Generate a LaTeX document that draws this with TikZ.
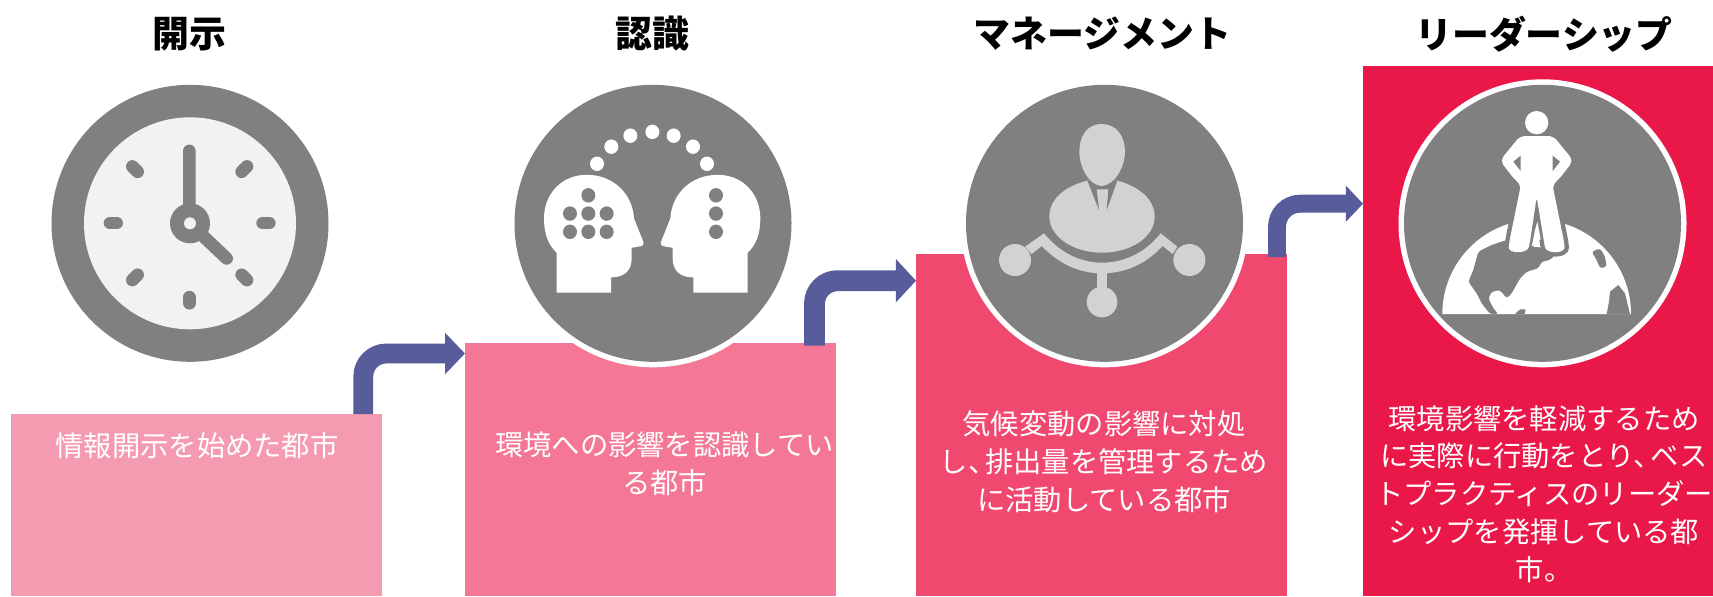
\documentclass[tikz,border=0pt]{standalone}
\usepackage{fontspec}
\usetikzlibrary{arrows.meta}
\newfontfamily\jpfont{Noto Sans CJK JP}
\definecolor{boxone}{HTML}{F59BB1}
\definecolor{boxtwo}{HTML}{F47896}
\definecolor{boxthree}{HTML}{F14870}
\definecolor{boxfour}{HTML}{EA1749}
\definecolor{arrowblue}{HTML}{575C9B}
\definecolor{iconlight}{HTML}{D2D2D2}
\tikzset{
	stepbox/.style={anchor=north west,inner sep=0pt,outer sep=0pt},
	stepline/.style={draw=arrowblue,rounded corners=.46cm},
	titletext/.style={font=\fontsize{21}{24}\selectfont\jpfont\bfseries},
	bodytext/.style={text=white,align=center,font=\fontsize{16.1}{21.5}\selectfont\jpfont},
}
\newcommand{\headshape}{(320,770)--(483,770)--(483,730) .. controls (525,730) and (545,710) .. (545,680)--(545,652)--(572,648) .. controls (582,646) and (582,640) .. (578,632)--(552,575) .. controls (548,510) and (490,460) .. (410,460) .. controls (335,460) and (282,510) .. (282,575) .. controls (282,615) and (295,645) .. (320,665)--cycle}
\newcommand{\standshape}{(300,138)--(400,138)--(460,212)--(415,270)--(397,283)--(432,455) .. controls (436,492) and (378,492) .. (372,455)--(350,320)--(330,455) .. controls (322,492) and (264,492) .. (268,455)--(303,283)--(285,270)--(240,212)--cycle}
\begin{document}
\begin{tikzpicture}[x=.02cm,y=-.02cm]
\useasboundingbox (0,0) rectangle (1713,596);
\node[stepbox,fill=boxone,minimum width=7.42cm,minimum height=3.64cm] (box1) at (11,414) {};
\node[stepbox,fill=boxtwo,minimum width=7.42cm,minimum height=5.06cm] (box2) at (465,343) {};
\node[stepbox,fill=boxthree,minimum width=7.42cm,minimum height=6.84cm] (box3) at (916,254) {};
\node[stepbox,fill=boxfour,minimum width=7cm,minimum height=10.6cm] (box4) at (1363,66) {};

\coordinate (start1) at (363.3,414);
\coordinate (tip1) at (465,353.5);
\coordinate (start2) at (814.5,345.5);
\coordinate (tip2) at (916,280.7);
\coordinate (start3) at (1277,257);
\coordinate (tip3) at (1363,203.7);
\draw[stepline,line width=11.3pt,-{Triangle[width=22.8pt,length=11.3pt]}] (start1) |- (tip1);
\draw[stepline,line width=11.9pt,-{Triangle[width=24.1pt,length=11.5pt]}] (start2) |- (tip2);
\draw[stepline,line width=10.2pt,-{Triangle[width=20.1pt,length=9.8pt]}] (start3) |- (tip3);

\fill[white] (653,223.3) circle (144);
\fill[white] (1104.5,223.3) circle (144);
\fill[white] (1542.5,223.3) circle (144);
\foreach \cx in {190,653,1104.5,1542.5}
	\fill[gray] (\cx,223.3) circle (138.5);

\fill[black!5] (190,223.3) circle (106);
\begin{scope}[xscale=1/3,yscale=.38]
	\draw[gray,line width=7.2pt,line cap=round] (568,397)--(568,587)--(680,680);
	\draw[gray,line width=7.2pt,line cap=round] (330,587)--(350,587) (788,587)--(808,587) (568,782)--(568,798);
	\draw[gray,line width=7.2pt,line cap=round] (397,438)--(413,452) (741,438)--(725,452) (397,737)--(413,723) (741,737)--(725,723);
\end{scope}
\fill[gray] (190,223.3) circle (20);
\fill[black!5] (190,223.3) circle (6);

\begin{scope}[shift={(450,0)},xscale=1/3,yscale=.38]
	\fill[white] \headshape;
	\begin{scope}[shift={(1213,0)},xscale=-1]
		\fill[white] \headshape;
	\end{scope}
	\foreach \dx/\dy in {441/431,484/386,541/357,607/347,671/357,729/386,771/431}
		\fill[white] (\dx,\dy) ellipse [x radius=21,y radius=19];
	\foreach \dx/\dy in {415/514,360/562,415/562,470/562,360/610,415/610,470/610,798/514,798/562,798/610}
		\fill[gray] (\dx,\dy) ellipse [x radius=21,y radius=19];
\end{scope}

\begin{scope}[shift={(990,100)},scale=1/3,iconlight]
	\fill (75,480) circle (48);
	\fill (598,480) circle (48);
	\fill (336,606) circle (46);
	\fill (320,510) rectangle (352,600);
	\fill (162,400) .. controls (215,465) and (280,488) .. (335,488) .. controls (395,488) and (460,465) .. (512,400)--(562,440)--(548,462)--(518,438) .. controls (460,500) and (395,520) .. (335,520) .. controls (280,520) and (215,500) .. (155,438)--(125,462)--(105,440)--cycle;
	\fill (292,242) .. controls (220,260) and (178,300) .. (178,350) .. controls (178,410) and (250,458) .. (335,458) .. controls (425,458) and (494,410) .. (494,350) .. controls (494,300) and (450,260) .. (382,242)--cycle;
	\fill[gray] (292,242)--(327,330)--(320,268)--(355,268)--(350,330)--(382,242)--cycle;
	\fill (335,72) .. controls (380,72) and (405,110) .. (405,155) .. controls (405,200) and (375,255) .. (335,258) .. controls (295,255) and (268,200) .. (268,155) .. controls (268,110) and (290,72) .. (335,72);
\end{scope}

\begin{scope}[shift={(1435,230)},scale=1/3]
	\fill[white] (22,252) arc [start angle=180,end angle=360,radius=283]--cycle;
	\fill[gray,rounded corners=1.5pt] (130,65)--(170,45)--(215,30)--(235,50)--(265,60)--(300,50)--(330,55)--(360,75)--(345,90)--(320,95)--(310,115)--(275,125)--(255,145)--(230,190)--(215,205)--(195,180)--(170,185)--(160,205)--(175,235)--(190,252)--(165,252)--(140,220)--(125,190)--(100,155)--(115,120)--cycle;
	\fill[gray] (240,252)--(255,238)--(272,238)--(268,252)--cycle;
	\fill[gray,rounded corners=1.5pt] (470,65)--(495,55)--(510,80)--(515,110)--(495,115)--(485,90)--cycle;
	\fill[gray] (525,185)--(550,165)--(570,190)--(585,252)--(515,252)--(522,215)--cycle;
\end{scope}
\begin{scope}[shift={(1420,90)},scale=1/3]
	\draw[gray,line width=5pt,rounded corners=3pt] \standshape;
	\fill[white,rounded corners=3pt] \standshape;
	\fill[white] (350,98) circle (35);
	\fill[gray] (302,197)--(280,215)--(302,243)--cycle;
	\fill[gray] (398,197)--(420,215)--(398,243)--cycle;
	\fill[white] (335,470)--(362,447)--(352,395)--(345,420)--cycle;
\end{scope}

\node[titletext] (title1) at (189.5,34) {開示};
\node[titletext] (title2) at (652.5,34) {認識};
\node[titletext] (title3) at (1102.5,34) {マネージメント};
\node[titletext] (title4) at (1544,34) {リーダーシップ};

\node[bodytext] (text1) at (197,445.5) {情報開示を始めた都市};
\node[bodytext] (text2) at (664.5,463.7) {環境への影響を認識してい\\る都市};
\node[bodytext] (text3) at (1104,461.8) {気候変動の影響に対処\\し、\hspace{-.4em}排出量を管理するため\\に活動している都市};
\node[bodytext] (text4) at (1544,494) {環境影響を軽減するため\\に実際に行動をとり、\hspace{-.4em}ベス\\トプラクティスのリーダー\\シップを発揮している都\\市。};
\end{tikzpicture}
\end{document}
